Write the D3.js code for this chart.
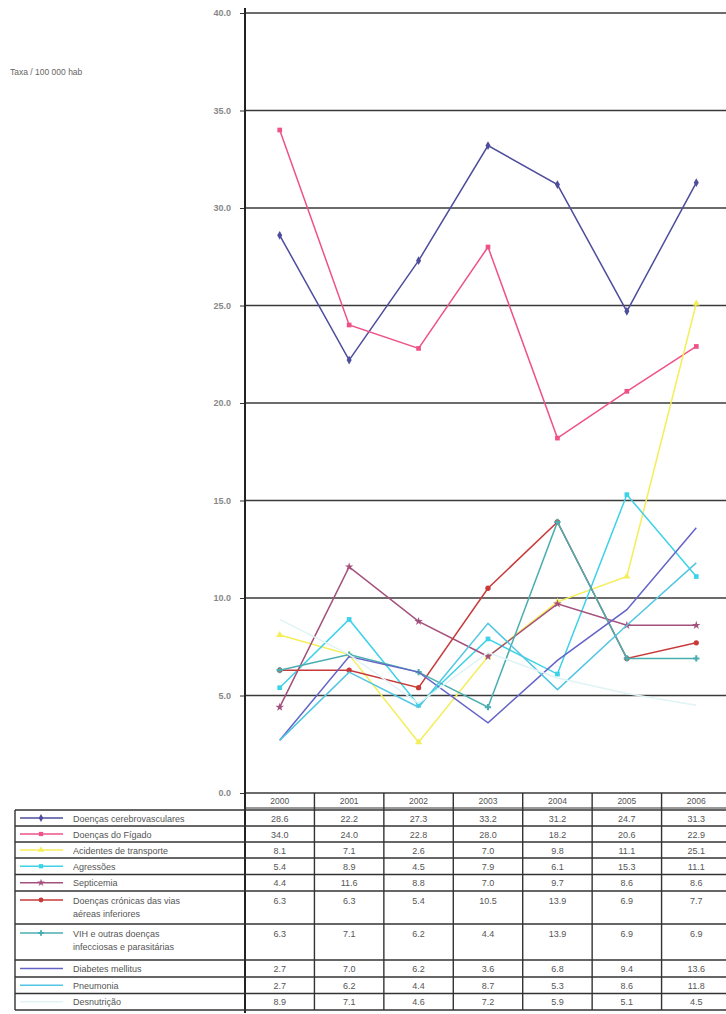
<!DOCTYPE html>
<html>
<head>
<meta charset="utf-8">
<script src="https://cdn.jsdelivr.net/npm/d3@7"></script>
<style>
  body { margin: 0; background: #fff; }
  svg text { font-family: "Liberation Sans", Arial, sans-serif; fill: #555; }
</style>
</head>
<body>
<div id="vis-container"></div>
<script>
// ---- data ----
var years = ["2000", "2001", "2002", "2003", "2004", "2005", "2006"];
var yTicks = [0, 5, 10, 15, 20, 25, 30, 35, 40];
var unitLabel = "Taxa / 100 000 hab";

var cerebro    = [28.6, 22.2, 27.3, 33.2, 31.2, 24.7, 31.3];
var figado     = [34.0, 24.0, 22.8, 28.0, 18.2, 20.6, 22.9];
var transporte = [8.1, 7.1, 2.6, 7.0, 9.8, 11.1, 25.1];
var agressoes  = [5.4, 8.9, 4.5, 7.9, 6.1, 15.3, 11.1];
var septicemia = [4.4, 11.6, 8.8, 7.0, 9.7, 8.6, 8.6];
var viasAereas = [6.3, 6.3, 5.4, 10.5, 13.9, 6.9, 7.7];
var vih        = [6.3, 7.1, 6.2, 4.4, 13.9, 6.9, 6.9];
var diabetes   = [2.7, 7.0, 6.2, 3.6, 6.8, 9.4, 13.6];
var pneumonia  = [2.7, 6.2, 4.4, 8.7, 5.3, 8.6, 11.8];
var desnutricao = [8.9, 7.1, 4.6, 7.2, 5.9, 5.1, 4.5];

var seriesNames = [
  ["Doenças cerebrovasculares"],
  ["Doenças do Fígado"],
  ["Acidentes de transporte"],
  ["Agressões"],
  ["Septicemia"],
  ["Doenças crónicas das vias", "aéreas inferiores"],
  ["VIH e outras doenças", "infecciosas e parasitárias"],
  ["Diabetes mellitus"],
  ["Pneumonia"],
  ["Desnutrição"]
];
var seriesValues = [cerebro, figado, transporte, agressoes, septicemia,
                    viasAereas, vih, diabetes, pneumonia, desnutricao];
var seriesColors = ["#4d4d9c", "#ee5288", "#f4ee5a", "#3cd2e8", "#a4507c",
                    "#c83a3a", "#4aaeb0", "#6464c8", "#52c6e2", "#e0f3f5"];
var seriesMarkers = ["diamond", "square", "triangle", "square", "star",
                     "circle", "cross", null, null, null];

// ---- layout ----
var W = 726, H = 1014;
var axisX = 245, plotTop = 13, plotBottom = 793;
var legendLeft = 15;
var rowHeights = [16, 16, 16, 16.5, 16.5, 33, 36, 17, 16.5, 16.5];
var headerTop = 793, headerBottom = 810;

var svg = d3.select("#vis-container").append("svg")
  .attr("width", W).attr("height", H);

var x = d3.scaleBand().domain(years).range([axisX, 731]);
var y = d3.scaleLinear().domain([0, 40]).range([plotBottom, plotTop]);

// gridlines
svg.append("g").selectAll("line").data(yTicks).enter().append("line")
  .attr("x1", axisX).attr("x2", W)
  .attr("y1", function(d) { return y(d); })
  .attr("y2", function(d) { return y(d); })
  .attr("stroke", "#3a3a3a").attr("stroke-width", 1.7);

// y axis
var yAxis = d3.axisLeft(y).tickValues(yTicks).tickSize(5)
  .tickFormat(function(d) { return d.toFixed(1); });
var ya = svg.append("g").attr("transform", "translate(" + axisX + ",0)").call(yAxis);
ya.select(".domain").remove();
ya.selectAll("line").attr("stroke", "#333");
ya.selectAll("text").attr("x", -14).style("font-size", "9px")
  .style("font-weight", "bold").style("fill", "#888");

// vertical axis line down through the table
svg.append("line").attr("x1", axisX).attr("x2", axisX)
  .attr("y1", 8).attr("y2", 1013).attr("stroke", "#222").attr("stroke-width", 2);

svg.append("text").attr("x", 10).attr("y", 75)
  .style("font-size", "8.5px").style("fill", "#666").text(unitLabel);

// ---- lines ----
var line = d3.line()
  .x(function(d, i) { return x(years[i]) + x.bandwidth() / 2; })
  .y(function(d) { return y(d); });

var symbolTypes = {
  diamond: d3.symbolDiamond, square: d3.symbolSquare, triangle: d3.symbolTriangle,
  star: d3.symbolStar, circle: d3.symbolCircle, cross: d3.symbolCross
};

var lines = svg.append("g");
seriesValues.forEach(function(vals, s) {
  lines.append("path").datum(vals)
    .attr("d", line).attr("fill", "none")
    .attr("stroke", seriesColors[s]).attr("stroke-width", 1.5);
  if (seriesMarkers[s]) {
    lines.selectAll(".m" + s).data(vals).enter().append("path")
      .attr("class", "m" + s)
      .attr("d", d3.symbol().type(symbolTypes[seriesMarkers[s]]).size(22))
      .attr("transform", function(d, i) {
        return "translate(" + (x(years[i]) + x.bandwidth() / 2) + "," + y(d) + ")";
      })
      .attr("fill", seriesColors[s]);
  }
});

// ---- data table ----
var tbl = svg.append("g");
var gridColor = "#333";

// header row (years)
tbl.selectAll(".yr").data(years).enter().append("text")
  .attr("x", function(d) { return x(d) + x.bandwidth() / 2; })
  .attr("y", headerTop + 11)
  .attr("text-anchor", "middle").style("font-size", "8.5px").text(function(d) { return d; });

var rowTops = [];
var acc = headerBottom;
rowHeights.forEach(function(h) { rowTops.push(acc); acc += h; });
var tableBottom = acc;

// horizontal rules
tbl.append("line").attr("x1", axisX).attr("x2", W)
  .attr("y1", headerBottom - 2).attr("y2", headerBottom - 2)
  .attr("stroke", gridColor).attr("stroke-width", 1);
rowTops.concat([tableBottom]).forEach(function(t) {
  tbl.append("line").attr("x1", legendLeft).attr("x2", W)
    .attr("y1", t).attr("y2", t).attr("stroke", gridColor).attr("stroke-width", 1.4);
});

// vertical rules
years.forEach(function(yr, i) {
  if (i === 0) return;
  tbl.append("line").attr("x1", x(yr)).attr("x2", x(yr))
    .attr("y1", headerTop).attr("y2", tableBottom)
    .attr("stroke", gridColor).attr("stroke-width", 1.4);
});
tbl.append("line").attr("x1", legendLeft).attr("x2", legendLeft)
  .attr("y1", headerBottom).attr("y2", tableBottom)
  .attr("stroke", gridColor).attr("stroke-width", 1.4);

// rows
seriesValues.forEach(function(vals, s) {
  var top = rowTops[s];
  var h = rowHeights[s];
  var twoLine = seriesNames[s].length > 1;
  var cy = twoLine ? top + 9 : top + h / 2;

  // legend key
  tbl.append("line").attr("x1", legendLeft + 5).attr("x2", legendLeft + 48)
    .attr("y1", cy).attr("y2", cy)
    .attr("stroke", seriesColors[s]).attr("stroke-width", 1.6);
  if (seriesMarkers[s]) {
    tbl.append("path")
      .attr("d", d3.symbol().type(symbolTypes[seriesMarkers[s]]).size(18))
      .attr("transform", "translate(" + (legendLeft + 26) + "," + cy + ")")
      .attr("fill", seriesColors[s]);
  }
  seriesNames[s].forEach(function(txt, k) {
    tbl.append("text").attr("x", legendLeft + 58).attr("y", cy + 3.5 + k * 13)
      .style("font-size", "9px").text(txt);
  });

  tbl.selectAll(".v" + s).data(vals).enter().append("text")
    .attr("class", "v" + s)
    .attr("x", function(d, i) { return x(years[i]) + x.bandwidth() / 2; })
    .attr("y", cy + 3.5)
    .attr("text-anchor", "middle").style("font-size", "9px")
    .text(function(d) { return d.toFixed(1); });
});
</script>
</body>
</html>
